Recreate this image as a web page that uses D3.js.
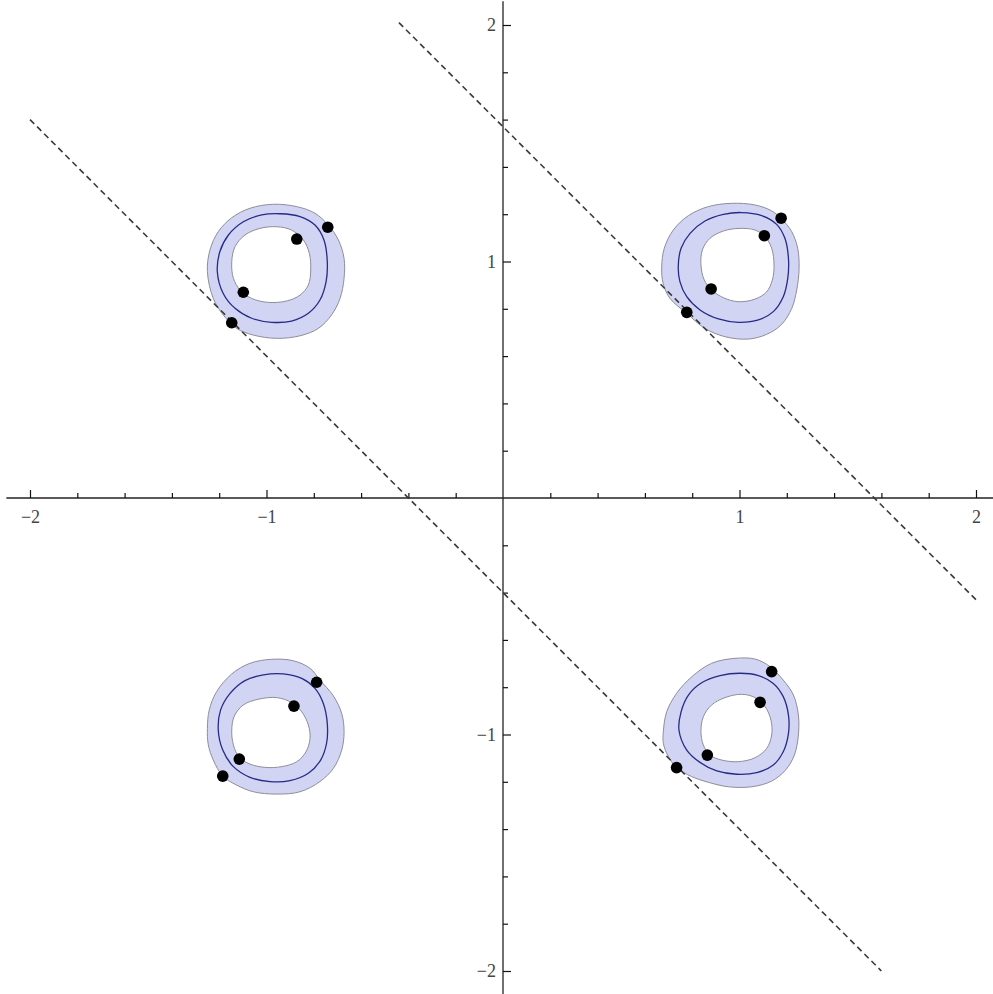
<!DOCTYPE html>
<html>
<head>
<meta charset="utf-8">
<script src="https://cdn.jsdelivr.net/npm/d3@7"></script>
<style>
  html, body { margin: 0; padding: 0; background: #fff; }
  svg { display: block; }
  .tick text { font-family: "Liberation Serif", "Times New Roman", serif; }
</style>
</head>
<body>
<svg id="chart" width="993" height="994"></svg>
<script>
//========================== Data ================================

// major / minor tick values and their labels
const majorTicks = [-2, -1, 1, 2]
const majorLabels = ['\u22122', '\u22121', '1', '2']
const minorTicks = [-1.8, -1.6, -1.4, -1.2, -0.8, -0.6, -0.4, -0.2, 0.2, 0.4, 0.6, 0.8, 1.2, 1.4, 1.6, 1.8]

// dashed lines, end points in data units
const lineA = [[-2.0, 1.6], [1.6, -2.0]]
const lineB = [[-0.44, 2.01], [2.0, -0.43]]

// top-left ring
const tlOuter = [[-1.250,0.957],[-1.239,1.049],[-1.204,1.126],[-1.147,1.185],[-1.070,1.225],[-0.971,1.242],[-0.872,1.232],[-0.795,1.204],[-0.739,1.154],[-0.696,1.091],[-0.672,1.013],[-0.672,0.929],[-0.689,0.844],[-0.725,0.774],[-0.781,0.717],[-0.858,0.686],[-0.957,0.675],[-1.056,0.689],[-1.126,0.717],[-1.183,0.774],[-1.225,0.844]]
const tlMid = [[-1.208,0.957],[-1.197,1.042],[-1.161,1.112],[-1.098,1.168],[-1.020,1.197],[-0.943,1.202],[-0.858,1.190],[-0.795,1.154],[-0.757,1.091],[-0.743,0.999],[-0.748,0.915],[-0.774,0.837],[-0.823,0.781],[-0.894,0.748],[-0.978,0.743],[-1.063,0.760],[-1.133,0.802],[-1.183,0.865]]
const tlHole = [[-1.147,0.999],[-1.133,1.063],[-1.091,1.112],[-1.028,1.140],[-0.957,1.147],[-0.894,1.133],[-0.844,1.091],[-0.819,1.035],[-0.813,0.964],[-0.823,0.901],[-0.858,0.858],[-0.915,0.833],[-0.992,0.827],[-1.063,0.844],[-1.112,0.880],[-1.140,0.929]]
const tlDots = [[-0.741,1.145],[-0.872,1.095],[-1.098,0.870],[-1.147,0.741]]

// top-right ring
const trOuter = [[0.671,0.978],[0.677,0.908],[0.706,0.844],[0.777,0.781],[0.854,0.717],[0.939,0.682],[1.037,0.672],[1.115,0.692],[1.178,0.734],[1.221,0.802],[1.242,0.880],[1.252,0.971],[1.246,1.056],[1.221,1.126],[1.178,1.180],[1.136,1.214],[1.066,1.239],[0.967,1.246],[0.868,1.232],[0.784,1.194],[0.720,1.133],[0.682,1.056]]
const trMid = [[0.741,0.978],[0.753,1.056],[0.791,1.119],[0.854,1.171],[0.932,1.199],[1.009,1.207],[1.094,1.194],[1.157,1.157],[1.192,1.098],[1.207,1.013],[1.204,0.929],[1.185,0.851],[1.143,0.788],[1.080,0.753],[0.995,0.743],[0.911,0.757],[0.833,0.795],[0.777,0.851],[0.748,0.915]]
const trHole = [[0.837,0.985],[0.843,1.049],[0.875,1.098],[0.932,1.129],[1.002,1.140],[1.066,1.133],[1.108,1.105],[1.136,1.056],[1.146,0.985],[1.139,0.922],[1.115,0.872],[1.066,0.841],[0.995,0.830],[0.932,0.847],[0.882,0.880],[0.851,0.922]]
const trDots = [[1.176,1.183],[1.105,1.109],[0.880,0.884],[0.777,0.785]]

// bottom-left ring
const blOuter = [[-1.250,-0.974],[-1.242,-0.896],[-1.211,-0.819],[-1.147,-0.744],[-1.070,-0.699],[-0.978,-0.682],[-0.887,-0.688],[-0.816,-0.720],[-0.774,-0.770],[-0.717,-0.837],[-0.682,-0.911],[-0.672,-0.988],[-0.682,-1.066],[-0.717,-1.143],[-0.774,-1.199],[-0.858,-1.242],[-0.957,-1.252],[-1.056,-1.242],[-1.126,-1.214],[-1.185,-1.176],[-1.225,-1.108],[-1.246,-1.044]]
const blMid = [[-1.204,-0.981],[-1.194,-0.896],[-1.154,-0.826],[-1.091,-0.772],[-1.013,-0.748],[-0.929,-0.744],[-0.851,-0.763],[-0.795,-0.805],[-0.760,-0.868],[-0.743,-0.953],[-0.746,-1.037],[-0.771,-1.108],[-0.823,-1.164],[-0.901,-1.195],[-0.985,-1.199],[-1.070,-1.181],[-1.140,-1.136],[-1.185,-1.066]]
const blHole = [[-1.147,-0.981],[-1.136,-0.922],[-1.098,-0.875],[-1.035,-0.851],[-0.957,-0.844],[-0.894,-0.865],[-0.851,-0.904],[-0.823,-0.960],[-0.816,-1.016],[-0.833,-1.073],[-0.872,-1.115],[-0.936,-1.136],[-1.006,-1.139],[-1.070,-1.125],[-1.115,-1.097],[-1.140,-1.044]]
const blDots = [[-0.788,-0.779],[-0.884,-0.880],[-1.115,-1.104],[-1.185,-1.176]]

// bottom-right ring
const brOuter = [[0.678,-0.988],[0.692,-0.904],[0.734,-0.826],[0.798,-0.756],[0.882,-0.699],[0.981,-0.678],[1.066,-0.681],[1.129,-0.713],[1.185,-0.770],[1.228,-0.833],[1.249,-0.918],[1.249,-1.002],[1.232,-1.087],[1.195,-1.150],[1.136,-1.197],[1.052,-1.221],[0.953,-1.221],[0.868,-1.202],[0.798,-1.178],[0.734,-1.140],[0.696,-1.087],[0.678,-1.037]]
const brMid = [[0.744,-0.981],[0.753,-0.904],[0.784,-0.833],[0.840,-0.781],[0.918,-0.751],[1.002,-0.741],[1.080,-0.751],[1.143,-0.784],[1.185,-0.840],[1.207,-0.918],[1.207,-0.995],[1.185,-1.073],[1.143,-1.129],[1.073,-1.161],[0.988,-1.168],[0.904,-1.154],[0.833,-1.118],[0.777,-1.066]]
const brHole = [[0.837,-0.988],[0.847,-0.925],[0.882,-0.875],[0.939,-0.844],[1.009,-0.830],[1.066,-0.844],[1.108,-0.882],[1.133,-0.939],[1.136,-1.002],[1.115,-1.059],[1.066,-1.098],[0.995,-1.115],[0.925,-1.108],[0.875,-1.087],[0.847,-1.044]]
const brDots = [[1.136,-0.734],[1.087,-0.864],[0.864,-1.087],[0.734,-1.140]]

const rings = [
  { outer: tlOuter, mid: tlMid, hole: tlHole, dots: tlDots },
  { outer: trOuter, mid: trMid, hole: trHole, dots: trDots },
  { outer: blOuter, mid: blMid, hole: blHole, dots: blDots },
  { outer: brOuter, mid: brMid, hole: brHole, dots: brDots }
];

//========================== Drawing ================================

(function() {

  let svg = d3.select('#chart'),
      x = d3.scaleLinear().domain([-2, 2]).range([30, 976]),
      y = d3.scaleLinear().domain([-2, 2]).range([971, 25])

  let smooth = d3.line()
    .x(d => x(d[0]))
    .y(d => y(d[1]))
    .curve(d3.curveCatmullRomClosed.alpha(0.5))

  let straight = d3.line()
    .x(d => x(d[0]))
    .y(d => y(d[1]))

  // ring fills, hole cut out with evenodd
  let ringG = svg.append('g')
  rings.forEach(r => {
    ringG.append('path')
      .attr('d', smooth(r.outer) + smooth(r.hole))
      .attr('fill', '#d1d4f3')
      .attr('fill-rule', 'evenodd')
      .attr('stroke', '#8e8e9a')
      .attr('stroke-width', 1)
    ringG.append('path')
      .attr('d', smooth(r.mid))
      .attr('fill', 'none')
      .attr('stroke', '#262b86')
      .attr('stroke-width', 1.3)
  })

  // axes (ticks point up / right, labels on the other side)
  let axisG = svg.append('g')
  axisG.append('line')
    .attr('x1', x(-2.1)).attr('x2', x(2.1))
    .attr('y1', y(0)).attr('y2', y(0))
    .attr('stroke', '#222').attr('stroke-width', 1.3)
  axisG.append('line')
    .attr('x1', x(0)).attr('x2', x(0))
    .attr('y1', y(2.1)).attr('y2', y(-2.1))
    .attr('stroke', '#222').attr('stroke-width', 1.3)

  axisG.append('g')
    .attr('transform', `translate(0,${y(0)})`)
    .call(d3.axisBottom(x).tickValues(minorTicks).tickSize(-5).tickFormat(''))
  axisG.append('g')
    .attr('transform', `translate(0,${y(0)})`)
    .call(d3.axisBottom(x).tickValues(majorTicks).tickSize(-8).tickPadding(12)
      .tickFormat((d, i) => majorLabels[i]))
  axisG.append('g')
    .attr('transform', `translate(${x(0)},0)`)
    .call(d3.axisLeft(y).tickValues(minorTicks).tickSize(-5).tickFormat(''))
  axisG.append('g')
    .attr('transform', `translate(${x(0)},0)`)
    .call(d3.axisLeft(y).tickValues(majorTicks).tickSize(-8).tickPadding(7)
      .tickFormat((d, i) => majorLabels[i]))

  axisG.selectAll('.domain').remove()
  axisG.selectAll('g').attr('font-family', '"Liberation Serif", "Times New Roman", serif')
  axisG.selectAll('.tick line').attr('stroke', '#111').attr('stroke-width', 1.2)
  axisG.selectAll('.tick text')
    .attr('fill', '#444')
    .attr('font-size', 18)

  // dashed lines
  svg.selectAll('.dash')
    .data([lineA, lineB])
    .enter().append('path')
    .attr('class', 'dash')
    .attr('d', straight)
    .attr('fill', 'none')
    .attr('stroke', '#3a3a3a')
    .attr('stroke-width', 1.6)
    .attr('stroke-dasharray', '6,4')

  // black points
  let allDots = rings.flatMap(r => r.dots)
  svg.selectAll('.pt')
    .data(allDots)
    .enter().append('circle')
    .attr('class', 'pt')
    .attr('cx', d => x(d[0]))
    .attr('cy', d => y(d[1]))
    .attr('r', 5.8)
    .attr('fill', '#000')

})()
</script>
</body>
</html>
